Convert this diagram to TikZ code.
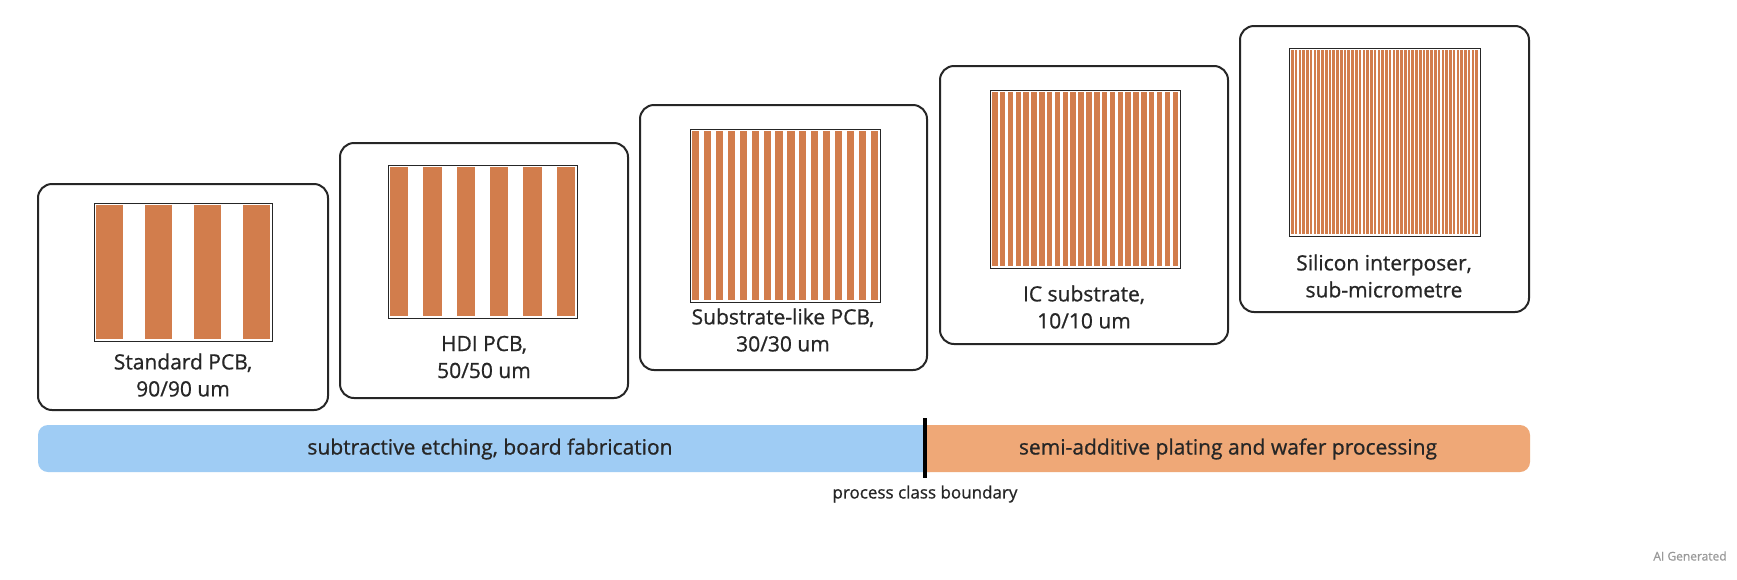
\documentclass[tikz,border=0pt]{standalone}
\usepackage{fontspec}
\setmainfont{Open Sans}[FakeBold=0.8]
\usepackage{tikz}
\usetikzlibrary{positioning}
\definecolor{copper}{HTML}{D27D4C}
\definecolor{barblue}{HTML}{9FCCF4}
\definecolor{barorange}{HTML}{EFA877}
% #1 left, #2 top, #3 right, #4 bottom, #5 stripes, #6 fill ratio
\newcommand{\tracefield}[6]{%
  \pgfmathsetmacro{\tp}{(#3-#1-4)/(#5-1+#6)}
  \pgfmathsetmacro{\tw}{\tp*#6}
  \foreach \k in {1,...,#5}{
    \fill[copper] ({#1+2+(\k-1)*\tp},#2+2) rectangle ++(\tw,#4-#2-4);
  }
  \draw[thick,black!85] (#1,#2) rectangle (#3,#4);
}
\begin{document}
\begin{tikzpicture}[
    x=1pt,y=-1pt,
    card/.style={draw=black!85,line width=2pt,rounded corners=14pt},
    lab/.style={font=\fontsize{21}{27}\selectfont,align=center,text=black!85},
    bartext/.style={font=\fontsize{21}{25}\selectfont,text=black!85}
  ]
  \useasboundingbox (0,0) rectangle (1737,579);
  \fill[white] (0,0) rectangle (1737,579);

  %cards
  \draw[card] (38,184) rectangle (328,410);
  \draw[card] (340,143) rectangle (628,398);
  \draw[card] (640,105) rectangle (927,370);
  \draw[card] (940,66) rectangle (1228,344);
  \draw[card] (1240,26) rectangle (1529,312);

  %traces
  \tracefield{94}{203}{272}{341}{4}{0.55}
  \tracefield{388}{165}{577}{318}{6}{0.55}
  \tracefield{690}{129}{880}{302}{16}{0.6}
  \tracefield{990}{90}{1180}{268}{24}{0.7}
  \tracefield{1289}{48}{1480}{236}{50}{0.7}

  %labels
  \node[lab] (std) at (183,375) {Standard PCB,\\90/90 um};
  \node[lab] (hdi) at (484,357) {HDI PCB,\\50/50 um};
  \node[lab] (slp) at (783,330) {Substrate-like PCB,\\30/30 um};
  \node[lab] (ics) at (1084,307) {IC substrate,\\10/10 um};
  \node[lab] (si) at (1384,276) {Silicon interposer,\\sub-micrometre};

  %process bar
  \fill[barblue,rounded corners=10pt] (38,425) rectangle (940,472);
  \fill[barorange,rounded corners=10pt] (915,425) rectangle (1530,472);
  \fill[barblue] (915,425) rectangle (925,472);
  \node[bartext] (sub) at (490,449) {subtractive etching, board fabrication};
  \node[bartext] (sap) at (1228,449) {semi-additive plating and wafer processing};
  \coordinate (btop) at (925,418);
  \coordinate (bbot) at (925,478);
  \draw[line width=4pt] (btop) -- (bbot);
  \node[lab,font=\fontsize{17}{20}\selectfont,below=4pt of bbot] (bnd) {process class boundary};
  \node[font=\fontsize{12}{14}\selectfont,text=black!40] (ai) at (1690,556) {AI Generated};
\end{tikzpicture}
\end{document}
